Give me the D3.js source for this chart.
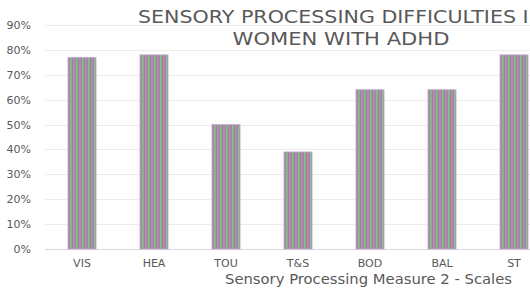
<!DOCTYPE html>
<html><head><meta charset="utf-8">
<script src="https://cdn.jsdelivr.net/npm/d3@7"></script>
<style>body{margin:0;background:#fff;overflow:hidden}</style>
</head><body>
<svg id="c" width="530" height="288"></svg>
<script>
const categories = ["VIS","HEA","TOU","T&S","BOD","BAL","ST"];
const values = [0.77,0.78,0.50,0.39,0.64,0.64,0.78];
const yTicks = [0,0.1,0.2,0.3,0.4,0.5,0.6,0.7,0.8,0.9];
const titleLines = ["SENSORY PROCESSING DIFFICULTIES IN","WOMEN WITH ADHD"];
const xTitle = "Sensory Processing Measure 2 - Scales";

const svg = d3.select("#c");
const font = "'DejaVu Sans', sans-serif";
const textColor = "#595959";
const x = d3.scaleBand().domain(categories).range([46,550]).paddingInner(0.61).paddingOuter(0.305);
const y = d3.scaleLinear().domain([0,0.9]).range([249,25]);

const defs = svg.append("defs");
const pat = defs.append("pattern").attr("id","stripes").attr("patternUnits","userSpaceOnUse")
  .attr("width",6).attr("height",4);
pat.append("rect").attr("width",6).attr("height",4).attr("fill","#8e8e8e");
pat.append("rect").attr("x",1).attr("width",2).attr("height",4).attr("fill","#c27fc0");
pat.append("rect").attr("x",4).attr("width",1.5).attr("height",4).attr("fill","#85c488");

// gridlines
svg.append("g").selectAll("line").data(yTicks).join("line")
  .attr("x1",45).attr("x2",530)
  .attr("y1",d=>Math.round(y(d))+0.5).attr("y2",d=>Math.round(y(d))+0.5)
  .attr("stroke",d=>d===0?"#d9d9d9":"#ececec").attr("stroke-width",1);

// y labels
svg.append("g").selectAll("text").data(yTicks).join("text")
  .attr("x",31).attr("y",d=>y(d)+4)
  .attr("text-anchor","end").attr("font-family",font).attr("font-size",11)
  .attr("fill",textColor).text(d=>Math.round(d*100)+"%");

// bars
svg.append("g").selectAll("rect").data(values).join("rect")
  .attr("x",(d,i)=>x(categories[i])).attr("width",x.bandwidth())
  .attr("y",d=>y(d)).attr("height",d=>y(0)-y(d))
  .attr("fill","url(#stripes)").attr("stroke","#c9a6d6").attr("stroke-width",0.8);

// x labels
svg.append("g").selectAll("text").data(categories).join("text")
  .attr("x",d=>x(d)+x.bandwidth()/2).attr("y",267)
  .attr("text-anchor","middle").attr("font-family",font).attr("font-size",11)
  .attr("fill",textColor).text(d=>d);

// title
const tLens = [406,217];
svg.append("g").selectAll("text").data(titleLines).join("text")
  .attr("x",(d,i)=>341-tLens[i]/2).attr("y",(d,i)=>23+i*22)
  .attr("textLength",(d,i)=>tLens[i]).attr("lengthAdjust","spacingAndGlyphs")
  .attr("font-family",font).attr("font-size",17)
  .attr("fill",textColor).text(d=>d);

// x title
svg.append("text").attr("x",225).attr("y",284)
  .attr("textLength",287).attr("lengthAdjust","spacingAndGlyphs")
  .attr("font-family",font).attr("font-size",13.5).attr("fill",textColor).text(xTitle);
</script>
</body></html>
